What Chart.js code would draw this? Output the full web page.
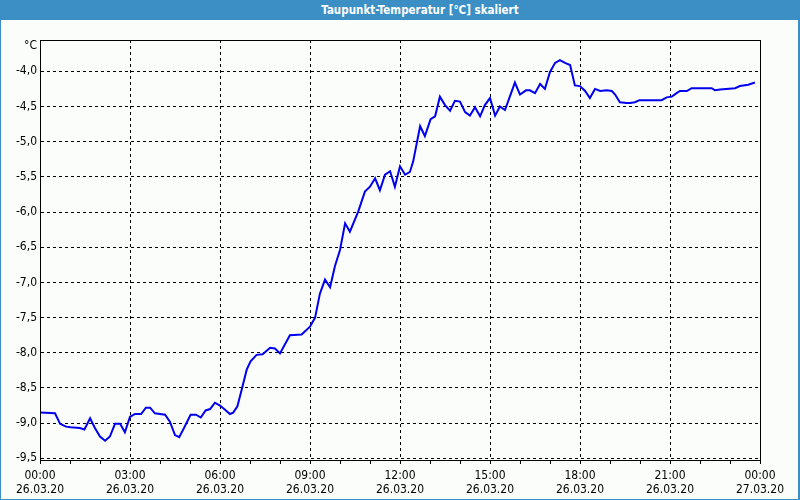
<!DOCTYPE html>
<html>
<head>
<meta charset="utf-8">
<script src="https://cdn.jsdelivr.net/npm/chart.js@4/dist/chart.umd.min.js"></script>
<style>
  html, body { margin: 0; padding: 0; background: #fbfdfb; }
  #win { position: relative; width: 800px; height: 500px; overflow: hidden; background: #fbfdfb; }
  #chart { position: absolute; left: 0; top: 0; }
  #title { position: absolute; left: 0; top: 0; width: 800px; height: 20px; box-sizing: border-box;
           padding-left: 40px; background: #3b8fc4; color: #ffffff; text-align: center;
           font: bold 11.5px 'DejaVu Sans Condensed', 'Liberation Sans', sans-serif; line-height: 20px; }
  #frame { position: absolute; left: 0; top: 0; width: 800px; height: 500px; box-sizing: border-box;
           border-left: 1px solid #3b8fc4; border-right: 2px solid #3b8fc4; border-bottom: 1px solid #3b8fc4;
           pointer-events: none; }
</style>
</head>
<body>
<div id="win">
  <canvas id="chart" width="800" height="500"></canvas>
  <div id="title">Taupunkt-Temperatur [°C] skaliert</div>
  <div id="frame"></div>
</div>
<script>
// Time of day in hours (26.03.20 00:00 = 0)
const hours = [
  0, 0.5, 0.67, 0.87, 1.02, 1.33, 1.48, 1.67, 1.83, 2.0, 2.17, 2.33, 2.5, 2.67, 2.83,
  3.0, 3.17, 3.37, 3.53, 3.67, 3.83, 4.17, 4.33, 4.5, 4.64, 4.8, 5.02, 5.2, 5.36, 5.52,
  5.67, 5.83, 6.0, 6.17, 6.33, 6.44, 6.58, 6.72, 6.89, 7.02, 7.22, 7.42, 7.67, 7.83, 8.0,
  8.33, 8.72, 9.0, 9.17, 9.33, 9.5, 9.67, 9.83, 10.0, 10.17, 10.33, 10.61, 10.83, 11.0,
  11.17, 11.33, 11.5, 11.67, 11.83, 12.0, 12.17, 12.33, 12.44, 12.67, 12.83, 13.02, 13.17,
  13.33, 13.5, 13.67, 13.83, 14.0, 14.17, 14.33, 14.5, 14.67, 14.83, 15.0, 15.17, 15.33,
  15.5, 15.83, 16.0, 16.2, 16.33, 16.5, 16.67, 16.83, 17.0, 17.17, 17.33, 17.5, 17.67,
  17.83, 18.0, 18.17, 18.33, 18.5, 18.67, 18.89, 19.06, 19.17, 19.33, 19.56, 19.67, 19.83,
  19.98, 20.72, 20.89, 21.06, 21.22, 21.33, 21.56, 21.72, 22.39, 22.5, 22.67, 23.17, 23.33,
  23.61, 23.83
];
// Dew point temperature (°C)
const dewPoint = [
  -8.85, -8.86, -9.01, -9.05, -9.06, -9.07, -9.09, -8.93, -9.07, -9.19, -9.25, -9.19, -9.01, -9.01, -9.13,
  -8.91, -8.87, -8.87, -8.78, -8.78, -8.86, -8.88, -8.98, -9.17, -9.20, -9.07, -8.88, -8.88, -8.92, -8.82,
  -8.80, -8.71, -8.75, -8.81, -8.87, -8.85, -8.76, -8.53, -8.24, -8.12, -8.03, -8.02, -7.93, -7.94, -8.01,
  -7.75, -7.74, -7.63, -7.50, -7.16, -6.96, -7.07, -6.77, -6.54, -6.16, -6.28, -5.99, -5.71, -5.64,
  -5.52, -5.69, -5.47, -5.42, -5.64, -5.35, -5.47, -5.43, -5.28, -4.78, -4.92, -4.68, -4.64,
  -4.36, -4.48, -4.56, -4.42, -4.43, -4.58, -4.63, -4.51, -4.64, -4.48, -4.38, -4.63, -4.50,
  -4.55, -4.16, -4.33, -4.27, -4.27, -4.31, -4.18, -4.25, -4.01, -3.88, -3.84, -3.88, -3.91,
  -4.20, -4.21, -4.28, -4.38, -4.25, -4.28, -4.27, -4.28, -4.33, -4.44, -4.45, -4.45, -4.44,
  -4.41, -4.41, -4.37, -4.36, -4.31, -4.28, -4.28, -4.24, -4.24, -4.27, -4.26, -4.24, -4.21,
  -4.19, -4.16
];
// Y-axis tick values and X-axis labels
const yTicks = [-9.5, -9.0, -8.5, -8.0, -7.5, -7.0, -6.5, -6.0, -5.5, -5.0, -4.5, -4.0];
const xTickHours = [0, 3, 6, 9, 12, 15, 18, 21, 24];
const xTimeLabels = ['00:00', '03:00', '06:00', '09:00', '12:00', '15:00', '18:00', '21:00', '00:00'];
const xDateLabels = ['26.03.20', '26.03.20', '26.03.20', '26.03.20', '26.03.20', '26.03.20', '26.03.20', '26.03.20', '27.03.20'];
const unitLabel = '°C';

const FONT = "'DejaVu Sans Condensed', 'Liberation Sans', sans-serif";

const framePlugin = {
  id: 'frame',
  afterDraw(chart) {
    const { ctx, chartArea: a } = chart;
    ctx.save();
    ctx.strokeStyle = '#000';
    ctx.lineWidth = 1;
    ctx.setLineDash([]);
    ctx.strokeRect(Math.round(a.left) + 0.5, Math.round(a.top) + 0.5,
                   Math.round(a.right - a.left), Math.round(a.bottom - a.top));
    ctx.fillStyle = '#000';
    ctx.font = '12px ' + FONT;
    ctx.textAlign = 'right';
    ctx.textBaseline = 'middle';
    ctx.fillText(unitLabel, a.left - 3, a.top + 6);
    ctx.restore();
  }
};

new Chart(document.getElementById('chart'), {
  type: 'line',
  data: {
    datasets: [{
      data: hours.map((h, i) => ({ x: h, y: dewPoint[i] })),
      borderColor: '#0000ee',
      borderWidth: 2,
      pointRadius: 0,
      tension: 0,
      fill: false
    }]
  },
  options: {
    responsive: false,
    animation: false,
    events: [],
    layout: { padding: { left: 0, top: 40, right: 40, bottom: 0 } },
    plugins: { legend: { display: false }, title: { display: false }, tooltip: { enabled: false } },
    scales: {
      x: {
        type: 'linear',
        min: 0, max: 24,
        afterFit(scale) { scale.height = 40; },
        afterBuildTicks(scale) {
          const t = [];
          for (let h = 0; h <= 24; h++) t.push({ value: h });
          scale.ticks = t;
        },
        ticks: {
          autoSkip: false, maxRotation: 0, minRotation: 0, padding: 5,
          color: '#000',
          font: { family: FONT, size: 12, lineHeight: 1.17 },
          callback(v) {
            const i = xTickHours.indexOf(v);
            return i >= 0 ? [xTimeLabels[i], xDateLabels[i]] : '';
          }
        },
        grid: {
          color: (c) => (c.tick && xTickHours.indexOf(c.tick.value) >= 0 && c.tick.value > 0 && c.tick.value < 24) ? '#000' : 'rgba(0,0,0,0)',
          lineWidth: 1,
          tickColor: '#000',
          tickWidth: 1,
          tickLength: 4,
          drawTicks: true
        },
        border: { display: true, color: '#000', width: 1, dash: [3, 3] }
      },
      y: {
        type: 'linear',
        min: -9.524, max: -3.555,
        afterFit(scale) { scale.width = 40; },
        afterBuildTicks(scale) { scale.ticks = yTicks.map(v => ({ value: v })); },
        ticks: {
          padding: 3,
          color: '#000',
          font: { family: FONT, size: 12 },
          callback(v) { return v.toFixed(1).replace('.', ','); }
        },
        grid: { color: '#000', lineWidth: 1, drawTicks: false },
        border: { display: true, color: '#000', width: 1, dash: [3, 3] }
      }
    }
  },
  plugins: [framePlugin]
});
</script>
</body>
</html>
